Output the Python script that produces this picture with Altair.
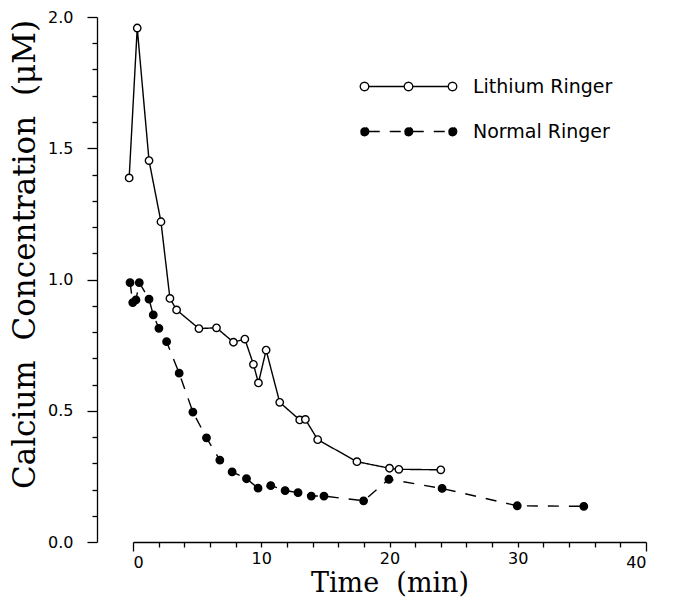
import altair as alt
import pandas as pd

# Lithium Ringer (open circles, solid line)
li_time = [-0.3, 0.33, 1.25, 2.18, 2.88, 3.4, 5.14, 6.51, 7.83, 8.72, 9.39, 9.78,
           10.38, 11.44, 13.0, 13.44, 14.4, 17.46, 20.0, 20.73, 24.0]
li_conc = [1.387, 1.958, 1.453, 1.22, 0.928, 0.884, 0.813, 0.816, 0.761, 0.773, 0.677, 0.606,
           0.731, 0.532, 0.465, 0.467, 0.39, 0.306, 0.281, 0.277, 0.275]

# Normal Ringer (filled circles, dashed line)
no_time = [-0.23, -0.02, 0.23, 0.49, 1.25, 1.58, 2.02, 2.62, 3.6, 4.67, 5.73, 6.77, 7.73,
           8.85, 9.75, 10.74, 11.86, 12.87, 13.9, 14.89, 17.98, 19.95, 24.1, 29.96, 35.15]
no_conc = [0.988, 0.912, 0.922, 0.988, 0.925, 0.865, 0.814, 0.763, 0.643, 0.495, 0.397, 0.312,
           0.267, 0.241, 0.205, 0.215, 0.196, 0.188, 0.175, 0.175, 0.157, 0.239, 0.204, 0.138, 0.136]

series_names = ["Lithium Ringer", "Normal Ringer"]
x_ticks = list(range(0, 41, 2))
y_ticks = [round(i * 0.1, 1) for i in range(0, 21)]

df = pd.concat([
    pd.DataFrame({"time": li_time, "conc": li_conc, "series": series_names[0], "order": range(len(li_time))}),
    pd.DataFrame({"time": no_time, "conc": no_conc, "series": series_names[1], "order": range(len(no_time))}),
])

# legend symbol: line with three circles
r = 0.85
c = 8.8
def circ(cx):
    return (f"M{cx + r},0A{r},{r},0,1,1,{cx - r},0A{r},{r},0,1,1,{cx + r},0Z")
sym_path = (f"M{-c + r},0L{-r},0M{r},0L{c - r},0" + circ(-c) + circ(0) + circ(c))

legend = alt.Legend(
    title=None, orient="none", legendX=266, legendY=60,
    symbolType=sym_path, symbolSize=100, symbolStrokeColor="black", symbolStrokeWidth=1.3,
    labelFont="DejaVu Sans", labelFontSize=19, labelColor="black", labelOffset=55,
    rowPadding=25, padding=0,
)

NB = "\u00a0"
x_enc = alt.X("time:Q", scale=alt.Scale(domain=[0, 40], nice=False, zero=False),
              axis=alt.Axis(values=x_ticks, title=f"Time{NB}{NB}(min)",
                            tickSize={"condition": {"test": "datum.value == 0 || datum.value == 40", "value": 9}, "value": 5},
                            labelExpr="datum.value % 10 == 0 ? datum.label : ''",
                            labelPadding=3,
                            titleFont="DejaVu Serif", titleFontSize=27, titleFontWeight="normal",
                            titlePadding=0))
y_enc = alt.Y("conc:Q", scale=alt.Scale(domain=[0, 2], nice=False),
              axis=alt.Axis(values=y_ticks, title=f"Calcium{NB}{NB}Concentration{NB}{NB}(μM)", offset=36,
                            tickSize={"condition": {"test": "round(datum.value * 10) % 5 == 0", "value": 10}, "value": 5},
                            labelExpr="round(datum.value * 10) % 5 == 0 ? format(datum.value, '.1f') : ''",
                            labelPadding=14,
                            titleFont="DejaVu Serif", titleFontSize=31, titleFontWeight="normal",
                            titleY=237, titlePadding=6))

lines = alt.Chart(df).mark_line(color="black", strokeWidth=1.4).encode(
    x=x_enc, y=y_enc, order="order:Q",
    strokeDash=alt.StrokeDash("series:N", scale=alt.Scale(domain=series_names, range=[[1, 0], [11, 10]]), legend=legend),
)
points = alt.Chart(df).mark_point(shape="circle", stroke="black", strokeWidth=1.4, opacity=1, size=55).encode(
    x=x_enc, y=y_enc,
    fill=alt.Fill("series:N", scale=alt.Scale(domain=series_names, range=["white", "black"]), legend=legend),
)

chart = alt.layer(lines, points).properties(
    width=513, height=525,
    autosize=alt.AutoSizeParams(type="none"),
    padding={"left": 133, "top": 17, "right": 28, "bottom": 59},
    background="white",
).configure_view(stroke=None).configure_axis(
    grid=False, domainColor="black", tickColor="black", labelColor="black", titleColor="black",
    labelFont="DejaVu Sans", labelFontSize=16, domainWidth=1.3, tickWidth=1.3,
)

chart.save("out.html", embed_options={"renderer": "svg", "actions": False})
